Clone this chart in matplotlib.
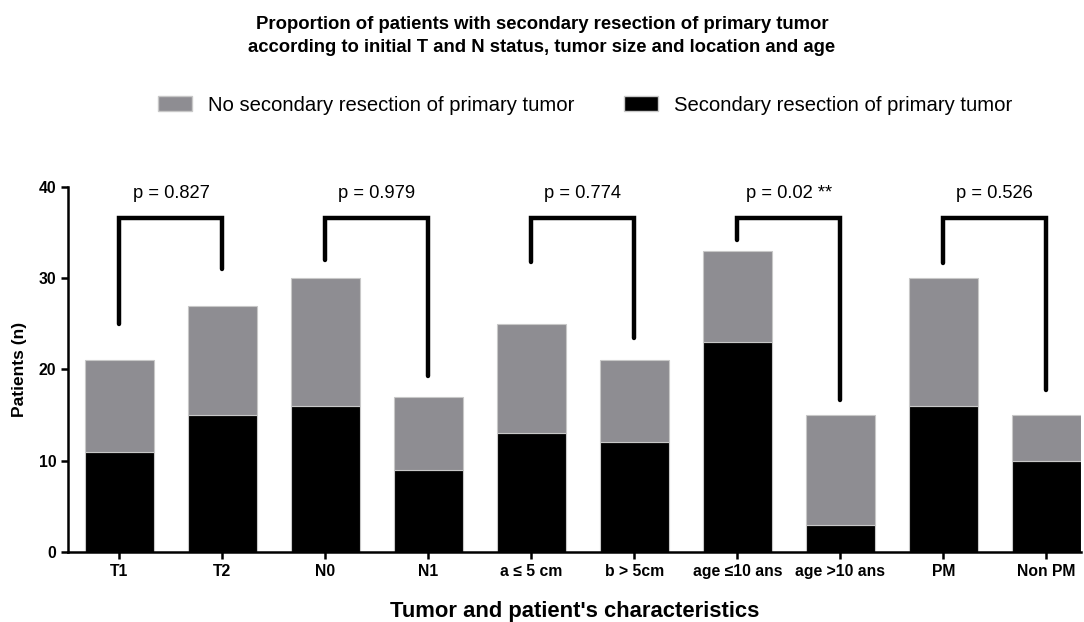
import matplotlib
matplotlib.use('Agg')
import matplotlib.pyplot as plt
from matplotlib.patches import Patch

plt.rcParams['font.family'] = ['Liberation Sans', 'DejaVu Sans']

categories = ['T1', 'T2', 'N0', 'N1', 'a ≤ 5 cm', 'b > 5cm',
              'age ≤10 ans', 'age >10 ans', 'PM', 'Non PM']
resected = [11, 15, 16, 9, 13, 12, 23, 3, 16, 10]
totals = [21, 27, 30, 17, 25, 21, 33, 15, 30, 15]
not_resected = [t - r for t, r in zip(totals, resected)]

# comparison pairs: (left idx, right idx, label, left leg end, right leg end)
pairs = [(0, 1, 'p = 0.827', 25, 31),
         (2, 3, 'p = 0.979', 32, 19.3),
         (4, 5, 'p = 0.774', 31.8, 23.5),
         (6, 7, 'p = 0.02 **', 34.2, 16.7),
         (8, 9, 'p = 0.526', 31.7, 17.8)]
bracket_top = 36.6

gray = '#8e8d92'
edge = '#c8c8c8'

fig = plt.figure(figsize=(10.84, 6.22), dpi=100)
ax = fig.add_axes([0.0627, 0.1125, 0.9343, 0.587])

x = range(len(categories))
ax.bar(x, resected, width=0.67, color='black', edgecolor=edge, linewidth=0.8)
ax.bar(x, not_resected, bottom=resected, width=0.67, color=gray,
       edgecolor=edge, linewidth=0.8)

for i, j, lab, yl, yr in pairs:
    ax.plot([i, i, j, j], [yl, bracket_top, bracket_top, yr], color='black',
            lw=3.2, solid_capstyle='round', solid_joinstyle='miter', clip_on=False)
    ax.text((i + j) / 2, 39.3, lab, ha='center', va='center', fontsize=13.2)

ax.set_xlim(-0.5, 9.335)
ax.set_ylim(0, 40)
ax.set_yticks([0, 10, 20, 30, 40])
ax.set_xticks(list(x))
ax.set_xticklabels(categories)
for s in ['top', 'right']:
    ax.spines[s].set_visible(False)
for s in ['left', 'bottom']:
    ax.spines[s].set_linewidth(1.8)
ax.tick_params(axis='both', width=1.8, length=5, labelsize=11.3)
for t in ax.get_xticklabels() + ax.get_yticklabels():
    t.set_fontweight('bold')
ax.set_ylabel('Patients (n)', fontsize=12.5, fontweight='bold', labelpad=8)
ax.set_xlabel("Tumor and patient's characteristics", fontsize=15.8,
              fontweight='bold', labelpad=16)

fig.text(0.5, 0.942, 'Proportion of patients with secondary resection of primary tumor\n'
         'according to initial T and N status, tumor size and location and age',
         ha='center', va='center', fontsize=13.35, fontweight='bold', linespacing=1.45)

handles = [Patch(facecolor=gray, edgecolor=edge, label='No secondary resection of primary tumor'),
           Patch(facecolor='black', edgecolor=edge, label='Secondary resection of primary tumor')]
fig.legend(handles=handles, loc='center', bbox_to_anchor=(0.5397, 0.831), ncol=2,
           frameon=False, fontsize=14.6, handlelength=1.68, handleheight=0.79,
           columnspacing=2.46, handletextpad=0.79)

fig.savefig('out.png', dpi=100)
